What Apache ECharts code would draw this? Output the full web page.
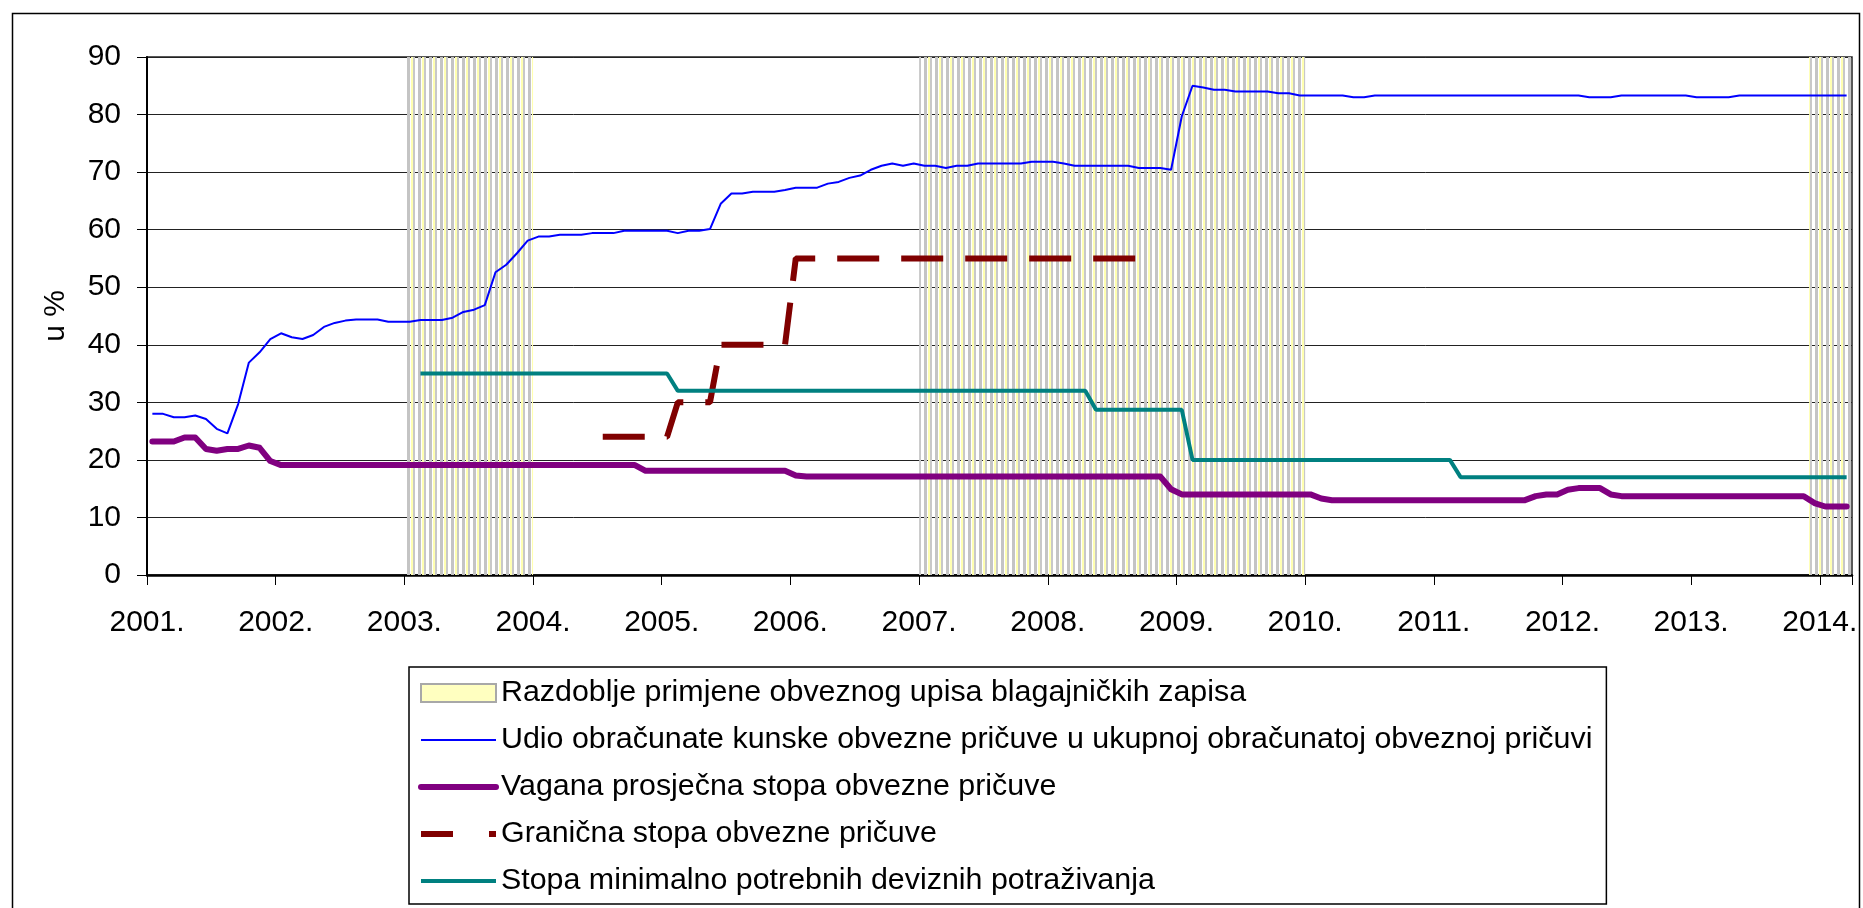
<!DOCTYPE html>
<html>
<head>
    <meta charset="utf-8">
    <script type="text/javascript" src="https://cdn.jsdelivr.net/npm/echarts@6/dist/echarts.min.js"></script>
    <style type="text/css">
        *{
            margin: 0;
            padding: 0;
        }
        #main{
            width: 1863px;
            height: 908px;
            background: #ffffff;
        }
    </style>
</head>

<body>
    <div id="main"></div>

    <script type="text/javascript">
        // nazivi serija
        var nameBand   = 'Razdoblje primjene obveznog upisa blagajničkih zapisa';
        var nameUdio   = 'Udio obračunate kunske obvezne pričuve u ukupnoj obračunatoj obveznoj pričuvi';
        var nameVagana = 'Vagana prosječna stopa obvezne pričuve';
        var nameGranic = 'Granična stopa obvezne pričuve';
        var nameDeviz  = 'Stopa minimalno potrebnih deviznih potraživanja';

        // razdoblja obveznog upisa blagajničkih zapisa (prvi i zadnji mjesec)
        var bandPeriods = [
            ['2003-01', '2003-12'],
            ['2007-01', '2009-12'],
            ['2013-12', '2014-03']
        ];

        // udio kunske obvezne pričuve, u %
        var udioKunske = [
            ['2001-01', 28.0], ['2001-02', 28.0], ['2001-03', 27.4], ['2001-04', 27.4], ['2001-05', 27.7], ['2001-06', 27.1],
            ['2001-07', 25.4], ['2001-08', 24.6], ['2001-09', 29.7], ['2001-10', 36.9], ['2001-11', 38.7], ['2001-12', 41.0],
            ['2002-01', 42.0], ['2002-02', 41.3], ['2002-03', 41.0], ['2002-04', 41.7], ['2002-05', 43.1], ['2002-06', 43.8],
            ['2002-07', 44.2], ['2002-08', 44.4], ['2002-09', 44.4], ['2002-10', 44.4], ['2002-11', 44.0], ['2002-12', 44.0],
            ['2003-01', 44.0], ['2003-02', 44.3], ['2003-03', 44.3], ['2003-04', 44.3], ['2003-05', 44.7], ['2003-06', 45.7],
            ['2003-07', 46.1], ['2003-08', 46.9], ['2003-09', 52.6], ['2003-10', 53.9], ['2003-11', 55.9], ['2003-12', 58.1],
            ['2004-01', 58.8], ['2004-02', 58.8], ['2004-03', 59.1], ['2004-04', 59.1], ['2004-05', 59.1], ['2004-06', 59.4],
            ['2004-07', 59.4], ['2004-08', 59.4], ['2004-09', 59.8], ['2004-10', 59.8], ['2004-11', 59.8], ['2004-12', 59.8],
            ['2005-01', 59.8], ['2005-02', 59.4], ['2005-03', 59.8], ['2005-04', 59.8], ['2005-05', 60.1], ['2005-06', 64.5],
            ['2005-07', 66.3], ['2005-08', 66.3], ['2005-09', 66.6], ['2005-10', 66.6], ['2005-11', 66.6], ['2005-12', 66.9],
            ['2006-01', 67.3], ['2006-02', 67.3], ['2006-03', 67.3], ['2006-04', 68.0], ['2006-05', 68.3], ['2006-06', 69.0],
            ['2006-07', 69.4], ['2006-08', 70.4], ['2006-09', 71.1], ['2006-10', 71.5], ['2006-11', 71.1], ['2006-12', 71.5],
            ['2007-01', 71.1], ['2007-02', 71.1], ['2007-03', 70.7], ['2007-04', 71.1], ['2007-05', 71.1], ['2007-06', 71.5],
            ['2007-10', 71.5], ['2007-11', 71.8], ['2007-12', 71.8],
            ['2008-01', 71.8], ['2008-02', 71.5], ['2008-03', 71.1], ['2008-08', 71.1], ['2008-09', 70.7], ['2008-10', 70.7],
            ['2008-11', 70.7], ['2008-12', 70.4],
            ['2009-01', 79.7], ['2009-02', 85.0], ['2009-03', 84.7], ['2009-04', 84.3], ['2009-05', 84.3], ['2009-06', 84.0],
            ['2009-09', 84.0], ['2009-10', 83.7], ['2009-11', 83.7], ['2009-12', 83.3],
            ['2010-04', 83.3], ['2010-05', 83.0], ['2010-06', 83.0], ['2010-07', 83.3],
            ['2012-02', 83.3], ['2012-03', 83.0], ['2012-05', 83.0], ['2012-06', 83.3],
            ['2012-12', 83.3], ['2013-01', 83.0], ['2013-04', 83.0], ['2013-05', 83.3],
            ['2014-03', 83.3]
        ];

        // vagana prosječna stopa obvezne pričuve, u %
        var vaganaStopa = [
            ['2001-01', 23.2], ['2001-03', 23.2], ['2001-04', 23.9], ['2001-05', 23.9], ['2001-06', 21.9], ['2001-07', 21.6],
            ['2001-08', 21.9], ['2001-09', 21.9], ['2001-10', 22.5], ['2001-11', 22.1], ['2001-12', 19.8], ['2002-01', 19.1],
            ['2004-10', 19.1], ['2004-11', 18.1], ['2005-12', 18.1], ['2006-01', 17.3], ['2006-02', 17.1],
            ['2008-11', 17.1], ['2008-12', 14.9], ['2009-01', 14.0], ['2010-01', 14.0], ['2010-02', 13.3], ['2010-03', 13.0],
            ['2011-09', 13.0], ['2011-10', 13.7], ['2011-11', 14.0], ['2011-12', 14.0], ['2012-01', 14.8], ['2012-02', 15.1],
            ['2012-04', 15.1], ['2012-05', 14.0], ['2012-06', 13.7], ['2013-11', 13.7], ['2013-12', 12.5], ['2014-01', 11.9],
            ['2014-03', 11.9]
        ];

        // granična stopa obvezne pričuve, u %
        var granicnaStopa = [
            ['2004-07', 24], ['2005-01', 24], ['2005-02', 30], ['2005-05', 30], ['2005-06', 40],
            ['2005-12', 40], ['2006-01', 55], ['2008-09', 55]
        ];

        // stopa minimalno potrebnih deviznih potraživanja, u %
        var deviznaStopa = [
            ['2003-02', 35], ['2005-01', 35], ['2005-02', 32], ['2008-04', 32], ['2008-05', 28.7],
            ['2009-01', 28.7], ['2009-02', 20], ['2011-02', 20], ['2011-03', 17], ['2014-03', 17]
        ];

        var yearTicks = [2001, 2002, 2003, 2004, 2005, 2006, 2007, 2008, 2009, 2010, 2011, 2012, 2013, 2014];

        // mjesec -> sredina mjeseca na godišnjoj osi
        function mid(m) {
            var p = m.split('-');
            return +p[0] + (+p[1] - 0.5) / 12;
        }
        function monthStart(m) {
            var p = m.split('-');
            return +p[0] + (+p[1] - 1) / 12;
        }
        function monthEnd(m) {
            var p = m.split('-');
            return +p[0] + (+p[1]) / 12;
        }
        function toXY(arr) {
            return arr.map(function (d) { return [mid(d[0]), d[1]]; });
        }

        // uzorak okomitih pruga za razdoblja (sivo / žuto / prazno)
        function stripes() {
            var c = document.createElement('canvas');
            c.width = 11;
            c.height = 4;
            var ctx = c.getContext('2d');
            var cols = [
                [0, 3, '#c4c4c4'],
                [4, 2, '#ffffb0'],
                [6, 2, '#c8c8c8']
            ];
            cols.forEach(function (s) {
                ctx.fillStyle = s[2];
                ctx.fillRect(s[0], 0, s[1], 4);
            });
            return c;
        }

        var font = 'Liberation Sans, Arial, sans-serif';
        var xMin = yearTicks[0];
        var xMax = monthEnd(bandPeriods[bandPeriods.length - 1][1]);

        var myChart = echarts.init(document.getElementById('main'));

        var option = {
            backgroundColor: '#ffffff',
            animation: false,
            textStyle: { fontFamily: font },
            graphic: [{
                type: 'rect',
                left: 10,
                top: 11,
                silent: true,
                z: -1,
                shape: { width: 1847, height: 960 },
                style: { fill: 'none', stroke: '#000', lineWidth: 1.5 }
            }],
            grid: {
                left: 147,
                top: 57,
                right: 11,
                bottom: 333,
                show: true,
                borderColor: '#222',
                borderWidth: 1.5
            },
            legend: {
                orient: 'vertical',
                left: 409,
                top: 667,
                padding: [11, 14, 8, 9],
                itemGap: 17,
                itemWidth: 75,
                itemHeight: 18,
                borderColor: '#000',
                borderWidth: 1.5,
                backgroundColor: '#fff',
                itemStyle: { opacity: 0 },
                textStyle: { fontSize: 30.4, color: '#000', fontFamily: font },
                data: [
                    { name: nameBand, icon: 'rect', itemStyle: { color: '#ffffc0', borderColor: '#a8a8a8', borderWidth: 2, opacity: 1 } },
                    { name: nameUdio, lineStyle: { width: 2 } },
                    { name: nameVagana, lineStyle: { width: 6 } },
                    { name: nameGranic, lineStyle: { width: 6, type: [32, 36] } },
                    { name: nameDeviz, lineStyle: { width: 4 } }
                ]
            },
            xAxis: {
                type: 'value',
                min: xMin,
                max: xMax,
                interval: 1,
                axisLine: { lineStyle: { color: '#000', width: 2.5 } },
                axisTick: { length: 10, lineStyle: { color: '#000', width: 1 } },
                splitLine: { show: false },
                axisLabel: {
                    fontSize: 30,
                    color: '#000',
                    margin: 33,
                    fontFamily: font,
                    formatter: function (v) {
                        return yearTicks.indexOf(v) >= 0 ? v + '.' : '';
                    }
                }
            },
            yAxis: {
                type: 'value',
                min: 0,
                max: 90,
                interval: 10,
                name: 'u %',
                nameLocation: 'middle',
                nameGap: 76,
                nameTextStyle: { fontSize: 30, color: '#000', fontFamily: font },
                axisLine: { show: true, lineStyle: { color: '#000', width: 2 } },
                axisTick: { show: true, length: 10, lineStyle: { color: '#000', width: 1 } },
                splitLine: { lineStyle: { color: '#222', width: 1 } },
                axisLabel: { fontSize: 30, color: '#000', margin: 26, fontFamily: font }
            },
            series: [
                {
                    name: nameBand,
                    type: 'line',
                    data: [],
                    z: 1,
                    itemStyle: { color: '#ffffc0' },
                    markArea: {
                        silent: true,
                        itemStyle: { color: { image: stripes(), repeat: 'repeat' } },
                        data: bandPeriods.map(function (p) {
                            return [{ xAxis: monthStart(p[0]) }, { xAxis: monthEnd(p[1]) }];
                        })
                    }
                },
                {
                    name: nameUdio,
                    type: 'line',
                    z: 4,
                    symbol: 'none',
                    data: toXY(udioKunske),
                    itemStyle: { color: '#0000ff' },
                    lineStyle: { color: '#0000ff', width: 2 }
                },
                {
                    name: nameVagana,
                    type: 'line',
                    z: 4,
                    symbol: 'none',
                    data: toXY(vaganaStopa),
                    itemStyle: { color: '#800080' },
                    lineStyle: { color: '#800080', width: 6, join: 'round', cap: 'round' }
                },
                {
                    name: nameGranic,
                    type: 'line',
                    z: 4,
                    symbol: 'none',
                    data: toXY(granicnaStopa),
                    itemStyle: { color: '#800000' },
                    lineStyle: { color: '#800000', width: 6, type: [42, 22], cap: 'butt' }
                },
                {
                    name: nameDeviz,
                    type: 'line',
                    z: 4,
                    symbol: 'none',
                    data: toXY(deviznaStopa),
                    itemStyle: { color: '#008080' },
                    lineStyle: { color: '#008080', width: 4 }
                }
            ]
        };

        myChart.setOption(option);
    </script>
</body>
</html>
